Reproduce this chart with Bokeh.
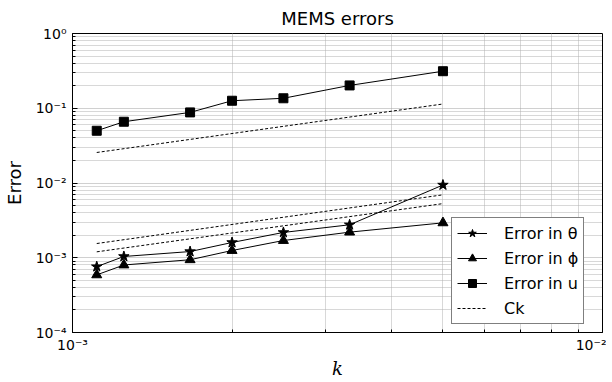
from bokeh.plotting import figure
from bokeh.models import FixedTicker, CustomJSTickFormatter, Legend, LegendItem
from bokeh.embed import file_html
from bokeh.resources import INLINE

# ---- data ----
k = [0.0011111, 0.00125, 0.0016667, 0.002, 0.0025, 0.0033333, 0.005]
err_theta = [7.6e-4, 1.04e-3, 1.21e-3, 1.60e-3, 2.18e-3, 2.76e-3, 9.4e-3]
err_phi = [5.9e-4, 8.0e-4, 9.4e-4, 1.25e-3, 1.70e-3, 2.20e-3, 2.93e-3]
err_u = [0.050, 0.066, 0.088, 0.126, 0.136, 0.202, 0.313]

ck_k = [0.0011111, 0.005]
ck_u = [0.0256, 0.114]
ck_theta = [1.55e-3, 6.95e-3]
ck_phi = [1.20e-3, 5.3e-3]

x_major = [1e-3, 1e-2]
x_minor = [m * 1e-3 for m in range(2, 10)]
y_major = [1e-4, 1e-3, 1e-2, 1e-1, 1e0]
y_minor = [m * 10.0 ** e for e in range(-4, 0) for m in range(2, 10)]

FONT = "DejaVu Sans"

p = figure(frame_width=530, frame_height=299, x_axis_type="log", y_axis_type="log",
           x_range=(1e-3, 1e-2), y_range=(1e-4, 1e0),
           output_backend="svg", toolbar_location=None,
           title="MEMS errors",
           min_border_left=62, min_border_right=4, min_border_top=24, min_border_bottom=40)

p.title.text_font = FONT
p.title.text_font_size = "18px"
p.title.text_font_style = "normal"
p.title.text_color = "black"
p.title.align = "center"

xt = FixedTicker(ticks=x_major, minor_ticks=x_minor)
yt = FixedTicker(ticks=y_major, minor_ticks=y_minor)

fmt_code = """
const e = Math.round(Math.log10(tick));
const sup = {'-':'\u207b','0':'\u2070','1':'\u00b9','2':'\u00b2','3':'\u00b3','4':'\u2074','5':'\u2075','6':'\u2076','7':'\u2077','8':'\u2078','9':'\u2079'};
return '10' + String(e).split('').map(c => sup[c]).join('');
"""

for ax, t in ((p.xaxis[0], xt), (p.yaxis[0], yt)):
    ax.ticker = t
    ax.formatter = CustomJSTickFormatter(code=fmt_code)
    ax.major_label_text_font = FONT
    ax.major_label_text_font_size = "14px"
    ax.major_label_text_color = "black"
    ax.axis_label_text_color = "black"
    ax.major_tick_in = 5
    ax.major_tick_out = 0
    ax.minor_tick_in = 3
    ax.minor_tick_out = 0
    ax.axis_line_color = "black"
    ax.major_tick_line_color = "black"
    ax.minor_tick_line_color = "black"

p.xaxis.axis_label = "k"
p.xaxis.axis_label_text_font = "DejaVu Serif"
p.xaxis.axis_label_text_font_style = "italic"
p.xaxis.axis_label_text_font_size = "18px"
p.xaxis.major_label_standoff = 4
p.xaxis.axis_label_standoff = 2

p.yaxis.axis_label = "Error"
p.yaxis.axis_label_text_font = FONT
p.yaxis.axis_label_text_font_style = "normal"
p.yaxis.axis_label_text_font_size = "18px"
p.yaxis.major_label_standoff = 6
p.yaxis.axis_label_standoff = 8

for g, t in ((p.xgrid[0], xt), (p.ygrid[0], yt)):
    g.ticker = t
    g.grid_line_color = "#a0a0a0"
    g.grid_line_dash = "1 1"
    g.grid_line_width = 1
    g.minor_grid_line_color = "#b0b0b0"
    g.minor_grid_line_dash = "1 1"
    g.minor_grid_line_width = 1

p.outline_line_color = "black"
p.outline_line_width = 1

lt = p.line(k, err_theta, line_color="black", line_width=1)
st = p.scatter(k, err_theta, marker="star", size=11, fill_color="black", line_color="black")
lp = p.line(k, err_phi, line_color="black", line_width=1)
sp = p.scatter(k, err_phi, marker="triangle", size=10, fill_color="black", line_color="black")
lu = p.line(k, err_u, line_color="black", line_width=1)
su = p.scatter(k, err_u, marker="square", size=9, fill_color="black", line_color="black")

c1 = p.line(ck_k, ck_u, line_color="black", line_dash="3 2", line_width=1)
c2 = p.line(ck_k, ck_theta, line_color="black", line_dash="3 2", line_width=1)
c3 = p.line(ck_k, ck_phi, line_color="black", line_dash="3 2", line_width=1)

legend = Legend(items=[
    LegendItem(label="Error in \u03b8", renderers=[lt, st]),
    LegendItem(label="Error in \u03d5", renderers=[lp, sp]),
    LegendItem(label="Error in u", renderers=[lu, su]),
    LegendItem(label="Ck", renderers=[c1]),
], location=(379, 8))
legend.label_text_font = FONT
legend.label_text_font_size = "16px"
legend.label_text_color = "black"
legend.border_line_color = "black"
legend.border_line_width = 1
legend.background_fill_color = "white"
legend.background_fill_alpha = 1
legend.margin = 0
legend.padding = 5
legend.spacing = 5
legend.glyph_width = 30
legend.glyph_height = 20
legend.label_height = 20
legend.label_standoff = 17
p.add_layout(legend, "center")

open("out.html", "w").write(file_html(p, INLINE))
